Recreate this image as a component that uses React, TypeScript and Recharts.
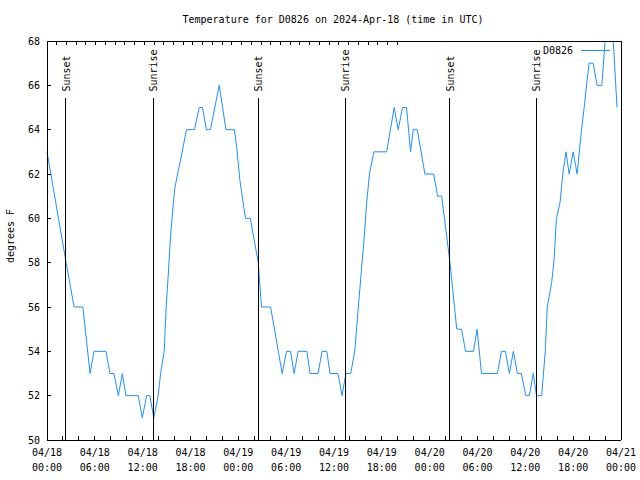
import React from "react";
import {
  Legend,
  Line,
  LineChart,
  ReferenceLine,
  XAxis,
  YAxis,
} from "recharts";

// hours since 04/18 00:00 UTC
const hours = [
  0, 2.4, 3.4, 4.5, 5.4, 5.9, 7.4, 7.9, 8.4, 8.95, 9.45, 9.9, 11.45, 11.95,
  12.5, 12.9, 13.4, 13.95, 14.25, 14.7, 14.95, 15.2, 15.5, 15.85, 16.05, 16.5,
  16.9, 17.5, 18.5, 19.1, 19.5, 20.0, 20.5, 21.6, 22.45, 23.5, 23.8, 24.2,
  24.9, 25.5, 26.5, 26.9, 28.05, 29.5, 30.05, 30.55, 31.0, 31.5, 32.6, 33.0,
  34.0, 34.5, 35.1, 35.5, 36.5, 37.0, 37.5, 38.1, 38.6, 39.05, 39.45, 39.8,
  40.1, 40.45, 41.0, 42.6, 43.55, 44.05, 44.6, 45.1, 45.6, 45.95, 46.45, 47.4,
  48.5, 49.0, 49.5, 50.55, 51.4, 52.0, 52.5, 53.5, 53.95, 54.5, 56.5, 57.0,
  57.5, 58.0, 58.5, 59.0, 59.5, 60.05, 60.5, 61.0, 61.4, 62.05, 62.5, 62.75,
  63.3, 63.6, 63.9, 64.35, 64.7, 65.1, 65.5, 66.0, 66.5, 66.85, 67.05, 67.35,
  67.7, 68.0, 68.5, 69.0, 69.6, 70.0, 70.5, 71.0, 71.5,
];

const tempF = [
  63, 58, 56, 56, 53, 54, 54, 53, 53, 52, 53, 52, 52, 51,
  52, 52, 51, 52, 53, 54, 56, 57.4, 59.2, 60.7, 61.4, 62.2,
  62.9, 64, 64, 65, 65, 64, 64, 66, 64, 64, 63.2, 61.7,
  60, 60, 58, 56, 56, 53, 54, 54, 53, 54, 54, 53,
  53, 54, 54, 53, 53, 52, 53, 53, 54, 56, 57.7, 59.2,
  60.7, 62, 63, 63, 65, 64, 65, 65, 63, 64, 64, 62,
  62, 61, 61, 58, 55, 55, 54, 54, 55, 53, 53, 54,
  54, 53, 54, 53, 53, 52, 52, 53, 52, 52, 54, 56,
  57.1, 58.1, 60, 60.7, 62, 63, 62, 63, 62, 63.3, 64, 64.9,
  66.1, 67, 67, 66, 66, 68, 69, 68.2, 65,
];

const sunsetHours = [2.38, 26.47, 50.55];
const sunriseHours = [13.3, 37.38, 61.34];

const yTicks = [50, 52, 54, 56, 58, 60, 62, 64, 66, 68];
const xMinorTicks = [
  0, 2, 4, 6, 8, 10, 12, 14, 16, 18, 20, 22, 24, 26, 28, 30, 32, 34, 36, 38,
  40, 42, 44, 46, 48, 50, 52, 54, 56, 58, 60, 62, 64, 66, 68, 70, 72,
];
const xMajorTicks = [0, 6, 12, 18, 24, 30, 36, 42, 48, 54, 60, 66, 72];
const xDateLabels = [
  "04/18", "04/18", "04/18", "04/18", "04/19", "04/19", "04/19",
  "04/19", "04/20", "04/20", "04/20", "04/20", "04/21",
];
const xTimeLabels = [
  "00:00", "06:00", "12:00", "18:00", "00:00", "06:00", "12:00",
  "18:00", "00:00", "06:00", "12:00", "18:00", "00:00",
];

const data = hours.map((h, i) => ({ h, temp: tempF[i] }));

const FONT = "'DejaVu Sans Mono', monospace";
const LINE_COLOR = "#1e90ff";
const SUN_TOP = 65.45;
const TICK = 4;

// inward tick marks drawn here; the axis itself gives x/y at the axis line
function BottomTick({ x, y, payload }: any) {
  const idx = xMajorTicks.indexOf(payload.value);
  return (
    <g>
      <line x1={x} x2={x} y1={y} y2={y - TICK} stroke="#000" shapeRendering="crispEdges" />
      {idx >= 0 && (
        <text x={x} y={y + 16} textAnchor="middle" fontSize={10} fontFamily={FONT} fill="#000">
          <tspan x={x} dy={0}>{xDateLabels[idx]}</tspan>
          <tspan x={x} dy={14.5}>{xTimeLabels[idx]}</tspan>
        </text>
      )}
    </g>
  );
}

function TopTick({ x, y }: any) {
  return <line x1={x} x2={x} y1={y} y2={y + TICK} stroke="#000" shapeRendering="crispEdges" />;
}

function LeftTick({ x, y, payload }: any) {
  return (
    <g>
      <line x1={x} x2={x + TICK} y1={y} y2={y} stroke="#000" shapeRendering="crispEdges" />
      <text x={x - 7} y={y} dy="0.36em" textAnchor="end" fontSize={10} fontFamily={FONT} fill="#000">
        {payload.value}
      </text>
    </g>
  );
}

function RightTick({ x, y }: any) {
  return <line x1={x} x2={x - TICK} y1={y} y2={y} stroke="#000" shapeRendering="crispEdges" />;
}

function sunLabel(text: string) {
  return (props: any) => {
    const vb = props.viewBox;
    if (!vb) return null;
    const lx = vb.x + 4;
    const ly = vb.y - 6;
    return (
      <text
        x={lx}
        y={ly}
        transform={`rotate(-90, ${lx}, ${ly})`}
        textAnchor="start"
        fontSize={10}
        fontFamily={FONT}
        fill="#000"
      >
        {text}
      </text>
    );
  };
}

function KeyBox() {
  return (
    <svg width={75} height={14} style={{ display: "block" }}>
      <text x={33} y={10.6} textAnchor="end" fontSize={10} fontFamily={FONT} fill="#000">
        D0826
      </text>
      <line x1={41} x2={70} y1={7.5} y2={7.5} stroke={LINE_COLOR} strokeWidth={1} shapeRendering="crispEdges" />
    </svg>
  );
}

export default function App() {
  return (
    <div style={{ position: "absolute", left: 0, top: 0, width: 640, height: 480, background: "#fff" }}>
      <div
        style={{
          position: "absolute",
          top: 14,
          left: 333,
          transform: "translateX(-50%)",
          fontFamily: FONT,
          fontSize: 10,
          lineHeight: "12px",
          whiteSpace: "nowrap",
          color: "#000",
        }}
      >
        Temperature for D0826 on 2024-Apr-18 (time in UTC)
      </div>
      <LineChart
        width={640}
        height={480}
        data={data}
        margin={{ top: 36, right: 14, bottom: 0, left: 0 }}
      >
        <XAxis
          dataKey="h"
          type="number"
          domain={[0, 72]}
          ticks={xMinorTicks}
          interval={0}
          height={40}
          tickSize={0}
          tickMargin={0}
          tick={<BottomTick />}
          axisLine={{ stroke: "#000", shapeRendering: "crispEdges" }}
          tickLine={false}
        />
        <XAxis
          xAxisId="top"
          orientation="top"
          type="number"
          domain={[0, 72]}
          ticks={xMinorTicks}
          interval={0}
          height={5}
          tickSize={0}
          tickMargin={0}
          tick={<TopTick />}
          axisLine={{ stroke: "#000", shapeRendering: "crispEdges" }}
          tickLine={false}
        />
        <YAxis
          type="number"
          domain={[50, 68]}
          ticks={yTicks}
          interval={0}
          allowDataOverflow
          width={47}
          tickSize={0}
          tickMargin={0}
          tick={<LeftTick />}
          axisLine={{ stroke: "#000", shapeRendering: "crispEdges" }}
          tickLine={false}
          label={() => (
            <text
              x={14}
              y={236}
              transform="rotate(-90, 14, 236)"
              textAnchor="middle"
              fontSize={10}
              fontFamily={FONT}
              fill="#000"
            >
              degrees F
            </text>
          )}
        />
        <YAxis
          yAxisId="right"
          orientation="right"
          type="number"
          domain={[50, 68]}
          ticks={yTicks}
          interval={0}
          width={5}
          tickSize={0}
          tickMargin={0}
          tick={<RightTick />}
          axisLine={{ stroke: "#000", shapeRendering: "crispEdges" }}
          tickLine={false}
        />
        <Legend
          layout="vertical"
          align="center"
          verticalAlign="middle"
          content={() => <KeyBox />}
          wrapperStyle={{ position: "absolute", left: 540, top: 43, width: 75, height: 14 }}
        />
        <Line
          type="linear"
          dataKey="temp"
          name="D0826"
          stroke={LINE_COLOR}
          strokeWidth={1}
          dot={false}
          activeDot={false}
          isAnimationActive={false}
        />
        {sunsetHours.map((h) => (
          <ReferenceLine
            key={`ss${h}`}
            segment={[{ x: h, y: 50 }, { x: h, y: SUN_TOP }]}
            stroke="#000"
            strokeWidth={1}
            shapeRendering="crispEdges"
            label={sunLabel("Sunset")}
          />
        ))}
        {sunriseHours.map((h) => (
          <ReferenceLine
            key={`sr${h}`}
            segment={[{ x: h, y: 50 }, { x: h, y: SUN_TOP }]}
            stroke="#000"
            strokeWidth={1}
            shapeRendering="crispEdges"
            label={sunLabel("Sunrise")}
          />
        ))}
      </LineChart>
    </div>
  );
}
